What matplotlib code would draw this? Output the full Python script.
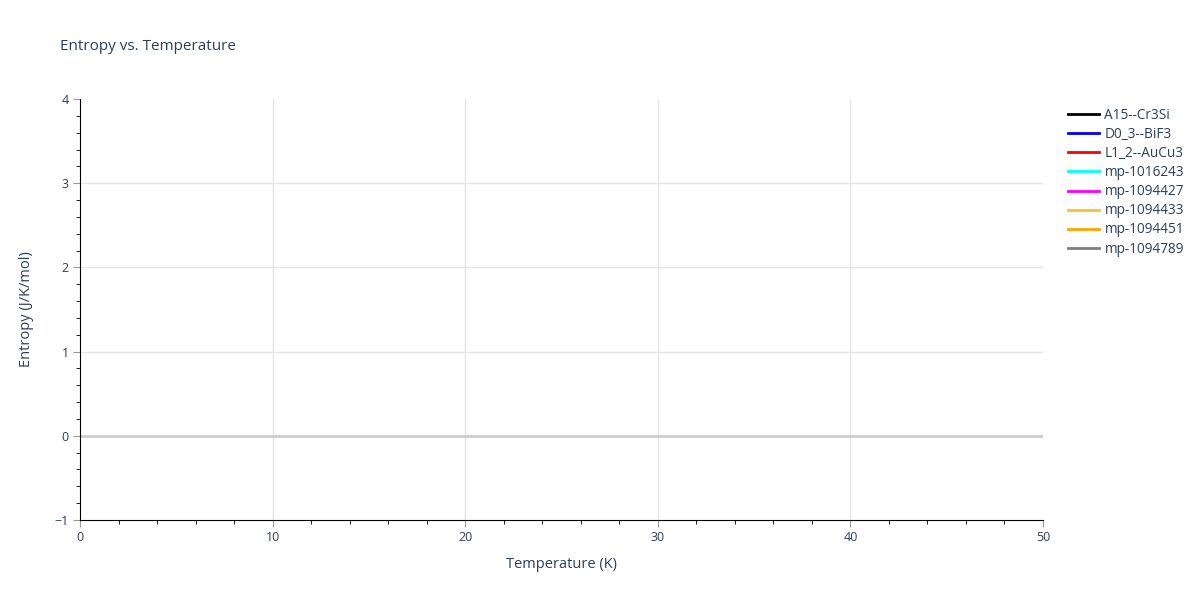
import matplotlib.pyplot as plt
from matplotlib.ticker import MultipleLocator

# phases in the legend; the reference shows no data points for any of them
phases = ["A15--Cr3Si", "D0_3--BiF3", "L1_2--AuCu3", "mp-1016243",
          "mp-1094427", "mp-1094433", "mp-1094451", "mp-1094789"]
colors = ["black", "blue", "red", "cyan", "magenta", "#f0c23b", "orange", "gray"]
temperature = {p: [] for p in phases}
entropy = {p: [] for p in phases}

x_range = (0, 50)
y_range = (-1, 4)

txt = "#2a3f5f"
grid_c = "#e5e5e5"
plt.rcParams["font.family"] = ["Open Sans", "DejaVu Sans"]

fig = plt.figure(figsize=(12, 6), dpi=100)
ax = fig.add_axes([80 / 1200, 1 - 520 / 600, (1043 - 80) / 1200, (520 - 99) / 600])

for p, c in zip(phases, colors):
    ax.plot(temperature[p], entropy[p], color=c, lw=2, label=p)

ax.set_xlim(*x_range)
ax.set_ylim(*y_range)
xmaj = MultipleLocator(10)
ymaj = MultipleLocator(1)
ax.xaxis.set_major_locator(xmaj)
ax.xaxis.set_minor_locator(MultipleLocator(2))
ax.yaxis.set_major_locator(ymaj)
ax.yaxis.set_minor_locator(MultipleLocator(0.2))

# gridlines only inside the plot, not on its edges
xg = [v for v in xmaj.tick_values(*x_range) if x_range[0] < v < x_range[1]]
yg = [v for v in ymaj.tick_values(*y_range) if y_range[0] < v < y_range[1] and v != 0]
ax.vlines(xg, *y_range, color=grid_c, lw=1, zorder=0.5)
ax.hlines(yg, *x_range, color=grid_c, lw=1, zorder=0.5)
ax.axhline(0, color="#cccccc", lw=2, zorder=1)

for s in ["top", "right"]:
    ax.spines[s].set_visible(False)
for s in ["left", "bottom"]:
    ax.spines[s].set_color("black")
ax.tick_params(which="major", length=5, color="#999999", labelsize=9, labelcolor=txt, pad=3)
ax.tick_params(which="minor", length=3, color="black")

ax.set_xlabel("Temperature (K)", fontsize=10.5, color=txt, labelpad=9.5)
ax.set_ylabel("Entropy (J/K/mol)", fontsize=10.5, color=txt, labelpad=14.5)
fig.text(60 / 1200, 1 - 46 / 600, "Entropy vs. Temperature", fontsize=11, color=txt, va="center")

fig.legend(loc="upper left", bbox_to_anchor=(1068 / 1200, 1 - 108 / 600), frameon=False,
           fontsize=9.8, labelcolor=txt, handlelength=2.3, handletextpad=0.38, labelspacing=0.3,
           borderaxespad=0, borderpad=0)

fig.savefig("out.png", dpi=100)
